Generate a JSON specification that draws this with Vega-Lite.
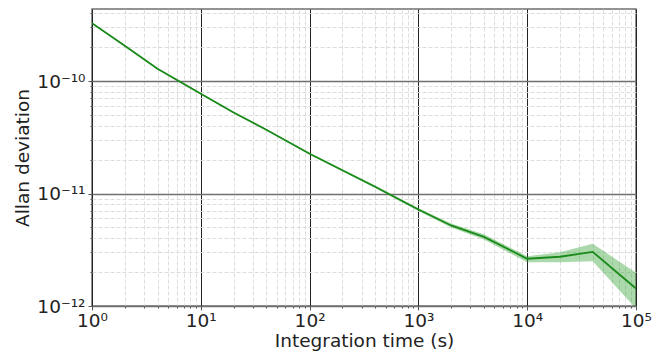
{
  "$schema": "https://vega.github.io/schema/vega-lite/v6.json",
  "width": 544,
  "height": 297,
  "autosize": {"type": "none"},
  "padding": {"left": 92, "top": 9, "right": 16, "bottom": 52},
  "config": {
    "view": {"stroke": "#6f6f6f", "strokeWidth": 1.5},
    "font": "DejaVu Sans"
  },
  "data": {
    "values": [
      {"tau": 1, "adev": 3.27e-10, "lo": 3.22e-10, "hi": 3.32e-10},
      {"tau": 2, "adev": 2.06e-10, "lo": 2.03e-10, "hi": 2.09e-10},
      {"tau": 4, "adev": 1.285e-10, "lo": 1.265e-10, "hi": 1.305e-10},
      {"tau": 10, "adev": 7.7e-11, "lo": 7.58e-11, "hi": 7.82e-11},
      {"tau": 20, "adev": 5.26e-11, "lo": 5.18e-11, "hi": 5.34e-11},
      {"tau": 40, "adev": 3.69e-11, "lo": 3.63e-11, "hi": 3.75e-11},
      {"tau": 100, "adev": 2.26e-11, "lo": 2.22e-11, "hi": 2.30e-11},
      {"tau": 200, "adev": 1.61e-11, "lo": 1.58e-11, "hi": 1.64e-11},
      {"tau": 400, "adev": 1.15e-11, "lo": 1.12e-11, "hi": 1.18e-11},
      {"tau": 1000, "adev": 7.2e-12, "lo": 7.0e-12, "hi": 7.4e-12},
      {"tau": 2000, "adev": 5.2e-12, "lo": 5.0e-12, "hi": 5.4e-12},
      {"tau": 4000, "adev": 4.12e-12, "lo": 3.9e-12, "hi": 4.35e-12},
      {"tau": 10000, "adev": 2.63e-12, "lo": 2.45e-12, "hi": 2.77e-12},
      {"tau": 20000, "adev": 2.74e-12, "lo": 2.45e-12, "hi": 3.01e-12},
      {"tau": 40000, "adev": 3.03e-12, "lo": 2.50e-12, "hi": 3.57e-12},
      {"tau": 100000, "adev": 1.43e-12, "lo": 0.95e-12, "hi": 1.98e-12}
    ]
  },
  "encoding": {
    "x": {
      "field": "tau",
      "type": "quantitative",
      "scale": {"type": "log", "domain": [1, 100000], "nice": false},
      "axis": {
        "title": "Integration time (s)",
        "titleFont": "DejaVu Sans",
        "titleFontSize": 18.5,
        "titleFontWeight": "normal",
        "titleColor": "#222222",
        "titlePadding": 2,
        "labelFont": "DejaVu Sans",
        "labelFontSize": 18.5,
        "labelColor": "#222222",
        "labelPadding": 1,
        "labelOverlap": false,
        "labelFlush": false,
        "domain": false,
        "values": [1, 2, 3, 4, 5, 6, 7, 8, 9, 10, 20, 30, 40, 50, 60, 70, 80, 90, 100, 200, 300, 400, 500, 600, 700, 800, 900, 1000, 2000, 3000, 4000, 5000, 6000, 7000, 8000, 9000, 10000, 20000, 30000, 40000, 50000, 60000, 70000, 80000, 90000, 100000],
        "labelExpr": "abs(log(datum.value)/LN10 - round(log(datum.value)/LN10)) < 0.001 ? ['10⁰','10¹','10²','10³','10⁴','10⁵'][round(log(datum.value)/LN10)] : ''",
        "grid": true,
        "gridColor": {"condition": {"test": "abs(log(datum.value)/LN10 - round(log(datum.value)/LN10)) < 0.001", "value": "#222222"}, "value": "#d9d9d9"},
        "gridWidth": {"condition": {"test": "abs(log(datum.value)/LN10 - round(log(datum.value)/LN10)) < 0.001", "value": 1}, "value": 0.9},
        "gridDash": {"condition": {"test": "abs(log(datum.value)/LN10 - round(log(datum.value)/LN10)) < 0.001", "value": []}, "value": [4, 2]},
        "gridOpacity": 1,
        "ticks": true,
        "tickColor": "#555555",
        "tickSize": {"condition": {"test": "abs(log(datum.value)/LN10 - round(log(datum.value)/LN10)) < 0.001", "value": 4}, "value": 2},
        "tickWidth": 1
      }
    },
    "y": {
      "field": "adev",
      "type": "quantitative",
      "scale": {"type": "log", "domain": [1e-12, 4.37e-10], "nice": false},
      "axis": {
        "title": "Allan deviation",
        "titleFont": "DejaVu Sans",
        "titleFontSize": 18.5,
        "titleFontWeight": "normal",
        "titleColor": "#222222",
        "titlePadding": 4,
        "labelFont": "DejaVu Sans",
        "labelFontSize": 18.5,
        "labelColor": "#222222",
        "labelPadding": 3,
        "labelOverlap": false,
        "labelFlush": false,
        "domain": false,
        "values": [1e-12, 2e-12, 3e-12, 4e-12, 5e-12, 6e-12, 7e-12, 8e-12, 9e-12, 1e-11, 2e-11, 3e-11, 4e-11, 5e-11, 6e-11, 7e-11, 8e-11, 9e-11, 1e-10, 2e-10, 3e-10, 4e-10],
        "labelExpr": "abs(log(datum.value)/LN10 - round(log(datum.value)/LN10)) < 0.001 ? ['10⁻¹²','10⁻¹¹','10⁻¹⁰'][round(log(datum.value)/LN10) + 12] : ''",
        "grid": true,
        "gridColor": {"condition": {"test": "abs(log(datum.value)/LN10 - round(log(datum.value)/LN10)) < 0.001", "value": "#6f6f6f"}, "value": "#d9d9d9"},
        "gridWidth": {"condition": {"test": "abs(log(datum.value)/LN10 - round(log(datum.value)/LN10)) < 0.001", "value": 1.5}, "value": 0.9},
        "gridDash": {"condition": {"test": "abs(log(datum.value)/LN10 - round(log(datum.value)/LN10)) < 0.001", "value": []}, "value": [4, 2]},
        "gridOpacity": 1,
        "ticks": true,
        "tickColor": "#555555",
        "tickSize": {"condition": {"test": "abs(log(datum.value)/LN10 - round(log(datum.value)/LN10)) < 0.001", "value": 4}, "value": 2},
        "tickWidth": 1
      }
    }
  },
  "layer": [
    {
      "mark": {"type": "area", "color": "#2ca02c", "opacity": 0.4, "clip": true},
      "encoding": {
        "y": {"field": "lo", "type": "quantitative"},
        "y2": {"field": "hi"}
      }
    },
    {
      "mark": {"type": "line", "color": "#1a8a1a", "strokeWidth": 1.8, "clip": true}
    }
  ]
}
